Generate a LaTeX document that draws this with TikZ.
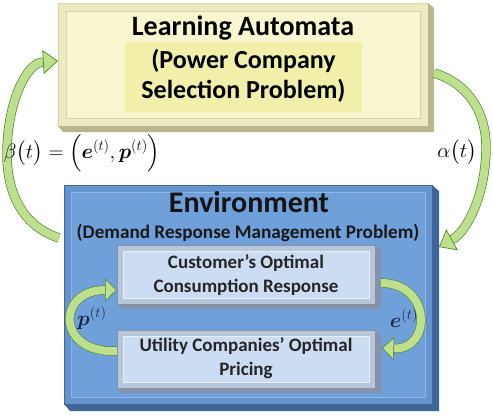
\documentclass[tikz,border=0pt]{standalone}
\usepackage[no-math]{fontspec}
\setmainfont{Carlito}
\usepackage{amsmath}
\usetikzlibrary{arrows.meta,calc}
\definecolor{laframe}{HTML}{ECEAC0}
\definecolor{laface}{HTML}{F8F7D0}
\definecolor{laline}{HTML}{D6D3A4}
\definecolor{laside}{HTML}{B9B58C}
\definecolor{lahi}{HTML}{F1EFAA}
\definecolor{envframe}{HTML}{6593CE}
\definecolor{envface}{HTML}{70A0DA}
\definecolor{envline}{HTML}{8EB6E6}
\definecolor{envside}{HTML}{3F6598}
\definecolor{envdark}{HTML}{3C66A0}
\definecolor{inframe}{HTML}{B7C6DA}
\definecolor{inface}{HTML}{CCDDF3}
\definecolor{inline}{HTML}{E8EFF9}
\definecolor{inside}{HTML}{8593A8}
\definecolor{arrowlight}{HTML}{BEE08E}
\definecolor{arrowdark}{HTML}{4E8A2C}
\definecolor{mathnavy}{HTML}{1C2748}
\begin{document}
\begin{tikzpicture}[x=1pt,y=-1pt,
  boxnode/.style={rectangle,inner sep=0pt,outer sep=0pt,anchor=north west},
  bigtitle/.style={font=\fontsize{28}{32}\selectfont\bfseries,text=black},
  latext/.style={font=\fontsize{26}{30}\selectfont\bfseries,align=center,text=black},
  envsub/.style={font=\fontsize{19.2}{22}\selectfont\bfseries,text=black!90},
  intext/.style={font=\fontsize{19}{24}\selectfont\bfseries,align=center,text=black!85},
  greenarrow/.style={draw=arrowdark,line width=0.7pt,double=arrowlight,double distance=8pt,
    -{Triangle[width=24pt,length=15pt,line width=0.7pt,color=arrowdark,fill=arrowlight]}},
  smallarrow/.style={draw=arrowdark,line width=0.6pt,double=arrowlight,double distance=8pt,
    -{Triangle[width=23pt,length=12pt,line width=0.6pt,color=arrowdark,fill=arrowlight]}},
  mathlabel/.style={font=\fontsize{22}{26}\selectfont,text=black},
  innermath/.style={font=\fontsize{21}{24}\selectfont,text=mathnavy}]
\useasboundingbox (0,0) rectangle (493,418);

% ---------- Learning Automata box ----------
\node[boxnode,fill=laframe,draw=laline,line width=0.6pt,minimum width=370pt,minimum height=123pt] (la) at (58,3) {};
\fill[laside] (la.north east) -- ($(la.north east)+(6,5)$) -- ($(la.south east)+(6,6)$) -- ($(la.south west)+(5,6)$) -- (la.south west) -- (la.south east) -- cycle;
\draw[laline,fill=laface,line width=0.8pt] ($(la.north west)+(8,8)$) rectangle ($(la.south east)+(-8,-8)$);
\node[boxnode,fill=lahi,minimum width=237pt,minimum height=70pt] (lahl) at (125,42) {};
\node[bigtitle] (latitle) at (243,28) {Learning Automata};
\node[latext] (lasub) at (243.5,76) {(Power Company\\Selection Problem)};

% ---------- Environment box ----------
\node[boxnode,fill=envframe,draw=envdark,line width=0.6pt,minimum width=368pt,minimum height=219pt] (env) at (64,185) {};
\fill[envside] (env.north east) -- ($(env.north east)+(7,6)$) -- ($(env.south east)+(7,7)$) -- ($(env.south west)+(6,7)$) -- (env.south west) -- (env.south east) -- cycle;
\draw[envline,fill=envface,line width=0.8pt] ($(env.north west)+(7,7)$) rectangle ($(env.south east)+(-7,-7)$);
\node[bigtitle,font=\fontsize{30}{34}\selectfont\bfseries,text=black!92] (envtitle) at (249,202) {Environment};
\node[envsub] (envsubt) at (248,233) {(Demand Response Management Problem)};

% ---------- inner boxes ----------
\node[boxnode,fill=inframe,draw=inside,line width=0.5pt,minimum width=258pt,minimum height=59pt] (cust) at (117,245) {};
\fill[inside] (cust.north east) -- ($(cust.north east)+(6,5)$) -- ($(cust.south east)+(6,5)$) -- ($(cust.south west)+(5,5)$) -- (cust.south west) -- (cust.south east) -- cycle;
\draw[inline,fill=inface,line width=0.8pt] ($(cust.north west)+(6,6)$) rectangle ($(cust.south east)+(-6,-6)$);
\node[intext] (custtext) at (246,275) {Customer’s Optimal\\Consumption Response};

\node[boxnode,fill=inframe,draw=inside,line width=0.5pt,minimum width=258pt,minimum height=58pt] (util) at (117,330) {};
\fill[inside] (util.north east) -- ($(util.north east)+(6,5)$) -- ($(util.south east)+(6,5)$) -- ($(util.south west)+(5,5)$) -- (util.south west) -- (util.south east) -- cycle;
\draw[inline,fill=inface,line width=0.8pt] ($(util.north west)+(6,6)$) rectangle ($(util.south east)+(-6,-6)$);
\node[intext] (utiltext) at (246,358) {Utility Companies’ Optimal\\Pricing};

% ---------- big arrows ----------
\draw[greenarrow] ($(env.north west)+(-5,53)$) .. controls (22,226) and (6,192) .. (7,150)
   .. controls (8,102) and (26,63) .. ($(la.north west)+(0,58)$);
\draw[greenarrow] ($(la.north east)+(6,70)$) .. controls (470,84) and (487,115) .. (486,150)
   .. controls (485,198) and (466,232) .. ($(env.north east)+(7,62)$);

% ---------- inner arrows ----------
\draw[smallarrow] ($(util.north west)+(0,21)$) .. controls (56,354) and (56,290) .. ($(cust.north west)+(0,45)$);
\draw[smallarrow] ($(cust.north east)+(6,38)$) .. controls (432,283) and (432,350) .. ($(util.north east)+(7,18)$);

% ---------- labels ----------
\node[mathlabel] (beta) at (82,153) {$\beta\bigl(t\bigr)=\Bigl(\boldsymbol{e}^{(t)},\boldsymbol{p}^{(t)}\Bigr)$};
\node[mathlabel] (alpha) at (457,152) {$\alpha\bigl(t\bigr)$};
\node[innermath] (plabel) at (92,318) {$\boldsymbol{p}^{(t)}$};
\node[innermath] (elabel) at (404,318) {$\boldsymbol{e}^{(t)}$};
\end{tikzpicture}
\end{document}
